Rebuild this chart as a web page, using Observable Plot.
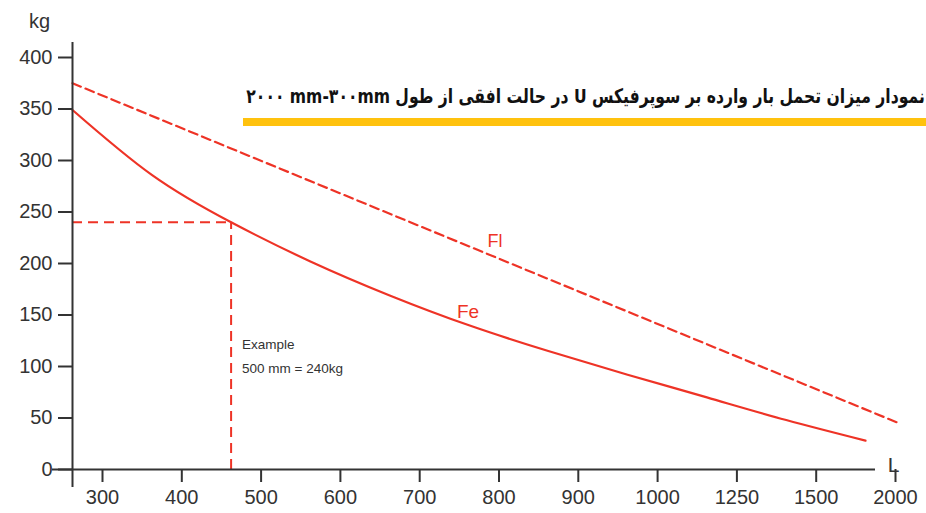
<!DOCTYPE html>
<html>
<head>
<meta charset="utf-8">
<script src="https://cdn.jsdelivr.net/npm/d3@7"></script>
<script src="https://cdn.jsdelivr.net/npm/@observablehq/plot@0.6"></script>
<style>
  body { margin: 0; background: white; }
  #wrap { position: relative; width: 926px; height: 513px; overflow: hidden; }
  #title { position: absolute; right: 1px; top: 84px; direction: rtl; white-space: nowrap;
           font-family: "DejaVu Sans", sans-serif; font-weight: bold; font-size: 20px; color: #111;
           transform: scaleX(0.78); transform-origin: right center; }
  #bar { position: absolute; left: 243px; right: 0; top: 118px; height: 8px; background: #FFC20E; }
</style>
</head>
<body>
<div id="wrap">
  <div id="chart"></div>
  <div id="title">نمودار میزان تحمل بار وارده بر سوپرفیکس U در حالت افقی از طول <span dir="ltr">۲۰۰۰ mm-۳۰۰mm</span></div>
  <div id="bar"></div>
</div>
<script>
// Categories (lengths, mm) shown along the x axis, evenly spaced
const lengthLabels = ["300", "400", "500", "600", "700", "800", "900", "1000", "1250", "1500", "2000"];
// Fe series (kg) at each length category
const feValues = [349, 286, 240, 202, 169, 140, 115, 92, 70, 48, 28];
// Fl series (kg): straight dashed line, start and end (end runs slightly past 2000)
const flIndex = [0, 10.42];
const flValues = [375, 45];
// y ticks
const yTicks = [0, 50, 100, 150, 200, 250, 300, 350, 400];
// Example reading
const exampleLength = "500";
const exampleValue = 240;
const exampleText = ["Example", "500 mm = 240kg"];
const seriesNames = ["Fe", "Fl"];

const red = "#EE3326";
const ink = "#333333";

const feData = feValues.map((v, i) => ({i, v}));
const flData = flValues.map((v, k) => ({i: flIndex[k], v}));
const exIdx = lengthLabels.indexOf(exampleLength);
const flAt = i => flValues[0] + (flValues[1] - flValues[0]) * (i - flIndex[0]) / (flIndex[1] - flIndex[0]);

const chart = Plot.plot({
  width: 926,
  height: 513,
  marginLeft: 72,
  marginRight: 61,
  marginTop: 57,
  marginBottom: 44,
  x: {type: "linear", domain: [0, lengthLabels.length - 1]},
  y: {domain: [0, 400]},
  style: {fontFamily: "'Liberation Sans', Arial, sans-serif", color: ink, background: "white", overflow: "visible"},
  marks: [
    Plot.ruleY([exampleValue], {x1: 0, x2: exIdx, stroke: red, strokeWidth: 2, strokeDasharray: "10,6"}),
    Plot.ruleX([exIdx], {y1: 0, y2: exampleValue, stroke: red, strokeWidth: 2, strokeDasharray: "10,6"}),
    Plot.line(flData, {x: "i", y: "v", stroke: red, strokeWidth: 2.2, strokeDasharray: "9,5"}),
    Plot.line(feData, {x: "i", y: "v", stroke: red, strokeWidth: 2.2, curve: "natural"}),
    Plot.ruleX([0], {stroke: ink, strokeWidth: 2, insetTop: -15, insetBottom: -18}),
    Plot.ruleY([0], {stroke: ink, strokeWidth: 2, insetLeft: -20, insetRight: -10}),
    Plot.axisY({ticks: yTicks, tickSize: 14, tickPadding: 6, fontSize: 20, label: null, strokeWidth: 2}),
    Plot.axisX({ticks: d3.range(lengthLabels.length), tickFormat: i => lengthLabels[i], tickSize: 13, tickPadding: 7,
                dx: 30, fontSize: 20, label: null, strokeWidth: 2}),
    Plot.text([seriesNames[0]], {x: () => 5, y: () => feValues[5], dx: -1, dy: -13, fill: red, fontSize: 19, lineAnchor: "middle"}),
    Plot.text([seriesNames[1]], {x: () => 5, y: () => flAt(5), dx: 26, dy: -5, fill: red, fontSize: 18, lineAnchor: "middle"}),
    Plot.text([exampleText.join("\n")], {x: () => exIdx, frameAnchor: "bottom", dx: 11, dy: -138, textAnchor: "start",
               lineAnchor: "top", fontSize: 13.5, lineHeight: 1.8, fill: ink}),
    Plot.text(["kg"], {frameAnchor: "top-left", dx: -33, dy: -36, fontSize: 20, textAnchor: "middle", lineAnchor: "middle", fill: ink}),
    Plot.text(["L"], {frameAnchor: "bottom-right", dx: 28, dy: -4, fontSize: 21, textAnchor: "middle", lineAnchor: "middle", fill: ink})
  ]
});
document.getElementById("chart").appendChild(chart);
</script>
</body>
</html>
